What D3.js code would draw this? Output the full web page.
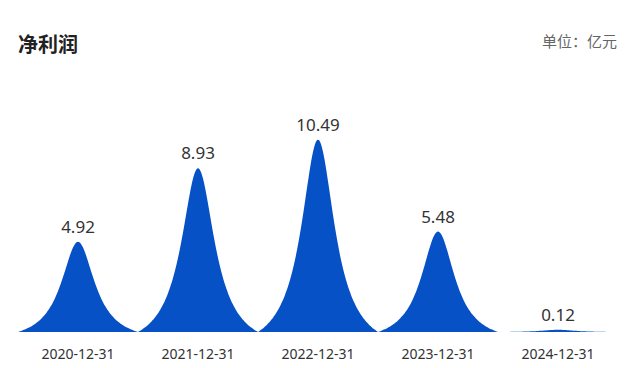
<!DOCTYPE html>
<html>
<head>
<meta charset="utf-8">
<script src="https://cdn.jsdelivr.net/npm/d3@7"></script>
<style>
  html, body { margin: 0; padding: 0; background: #fff; }
  svg { display: block; font-family: "Microsoft YaHei", "Noto Sans CJK SC", "Noto Sans", sans-serif; }
</style>
</head>
<body>
<svg id="chart"></svg>
<script>
const categories = ["2020-12-31", "2021-12-31", "2022-12-31", "2023-12-31", "2024-12-31"]
const values = [4.92, 8.93, 10.49, 5.48, 0.12]
const yMax = 12

const svgDimensions = { width: 640, height: 368 }
const margin = { left: 18, right: 22, top: 112, bottom: 36 }
const chartDimensions = {
    width: svgDimensions.width - margin.left - margin.right,
    height: svgDimensions.height - margin.top - margin.bottom
}

const svg = d3.select('#chart')
    .attr("width", svgDimensions.width)
    .attr("height", svgDimensions.height)

// title + unit
svg.append("text")
    .attr("x", 18).attr("y", 52)
    .attr("font-size", 20).attr("font-weight", "bold").attr("fill", "#222")
    .text("净利润")

svg.append("text")
    .attr("x", 617).attr("y", 47)
    .attr("text-anchor", "end")
    .attr("font-size", 15).attr("fill", "#666")
    .text("单位：亿元")

const x = d3.scaleBand()
    .domain(categories)
    .range([0, chartDimensions.width])
    .padding(0)

const y = d3.scaleLinear()
    .domain([0, yMax])
    .range([chartDimensions.height, 0])

const chartGroup = svg.append("g")
    .attr("transform", `translate(${margin.left}, ${margin.top})`)

// spike glyph: lorentz-like bump, zero at band edges
const a = 0.34
const c = 1 / (1 + 1 / (a * a))
const bump = t => (1 / (1 + (t / a) * (t / a)) - c) / (1 - c)
const steps = d3.range(-1, 1.0001, 0.025)

function spikePath(cat, val) {
    const cx = x(cat) + x.bandwidth() / 2
    const hw = x.bandwidth() / 2
    const base = y(0)
    const h = base - y(val)
    const pts = steps.map(t => [cx + t * hw, base - bump(t) * h])
    return d3.line().curve(d3.curveMonotoneX)(pts) + "Z"
}

chartGroup.selectAll("path.spike")
    .data(values)
    .enter()
    .append("path")
    .attr("class", "spike")
    .attr("d", (d, i) => spikePath(categories[i], d))
    .attr("fill", "#0651c6")

chartGroup.selectAll("text.value")
    .data(values)
    .enter()
    .append("text")
    .attr("class", "value")
    .attr("x", (d, i) => x(categories[i]) + x.bandwidth() / 2)
    .attr("y", d => y(d) - 9)
    .attr("text-anchor", "middle")
    .attr("font-size", 17)
    .attr("fill", "#333")
    .attr("font-family", "\"Noto Sans\", sans-serif")
    .text(d => d.toFixed(2))

const xAxis = d3.axisBottom(x).tickSize(0).tickPadding(17)
const axisG = chartGroup.append("g")
    .attr("transform", `translate(0, ${chartDimensions.height})`)
    .call(xAxis)
axisG.select(".domain").remove()
axisG.selectAll("text")
    .attr("font-size", 14)
    .attr("fill", "#333")
    .attr("font-family", "\"Noto Sans\", sans-serif")
</script>
</body>
</html>
